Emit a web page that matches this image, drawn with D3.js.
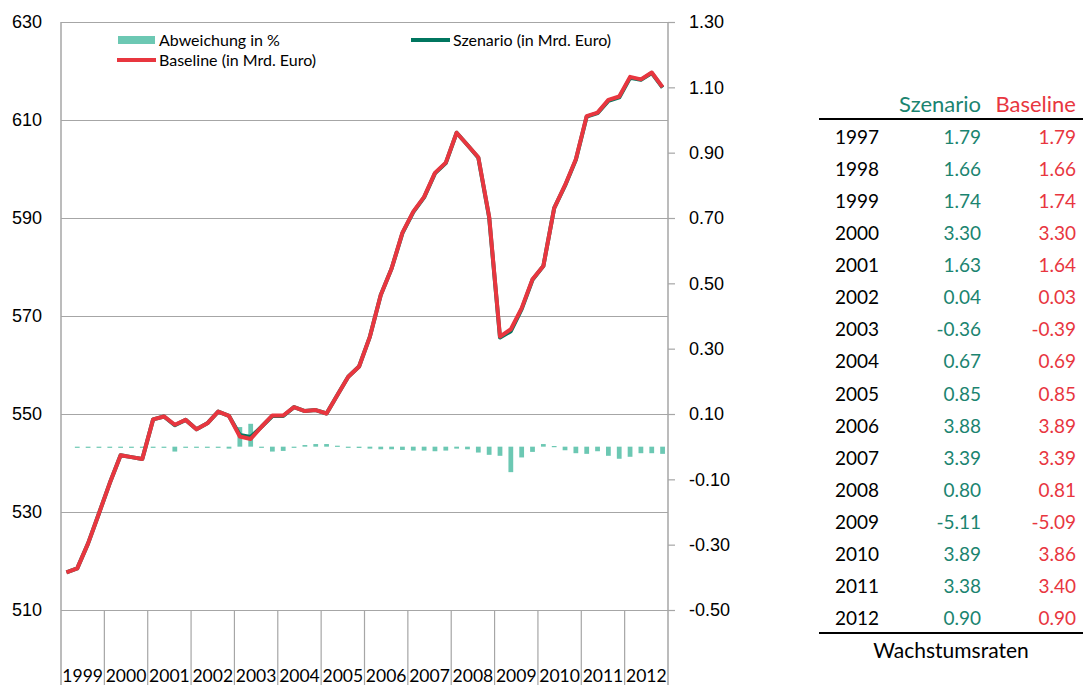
<!DOCTYPE html>
<html>
<head>
<meta charset="utf-8">
<script src="https://cdn.jsdelivr.net/npm/d3@7"></script>
<style>
	body { margin: 0; background: #fff; }
	svg { display: block; font-family: Lato, 'Open Sans', sans-serif; }
	.axis path.domain { display: none; }
</style>
</head>
<body>
<svg id="chart" width="1083" height="685"></svg>
<script>
// --- data ---
var years = [ 1999, 2000, 2001, 2002, 2003, 2004, 2005, 2006, 2007, 2008, 2009, 2010, 2011, 2012 ];

var baseline = [
	517.7, 518.5, 523.6, 529.7,
	535.9, 541.6, 541.2, 540.8,
	548.9, 549.5, 547.8, 548.8,
	546.9, 548.1, 550.5, 549.6,
	545.4, 544.9, 547.4, 549.7,
	549.7, 551.4, 550.6, 550.8,
	550.1, 553.9, 557.6, 559.7,
	565.8, 574.3, 579.7, 587.0,
	591.3, 594.3, 599.2, 601.3,
	607.4, 604.9, 602.4, 590.3,
	565.8, 567.3, 571.6, 577.5,
	580.2, 592.0, 596.7, 602.0,
	610.8, 611.5, 614.1, 614.8,
	618.8, 618.3, 619.7, 616.7
];

var szenario = [
	517.7, 518.5, 523.6, 529.7,
	535.9, 541.6, 541.2, 540.8,
	548.9, 549.5, 547.7, 548.8,
	546.9, 548.1, 550.5, 549.6,
	545.7, 545.3, 547.4, 549.6,
	549.6, 551.4, 550.6, 550.8,
	550.1, 553.9, 557.6, 559.7,
	565.8, 574.3, 579.7, 586.9,
	591.2, 594.2, 599.1, 601.2,
	607.4, 604.9, 602.3, 590.1,
	565.6, 566.9, 571.4, 577.4,
	580.2, 592.0, 596.6, 601.9,
	610.7, 611.4, 613.9, 614.6,
	618.6, 618.2, 619.6, 616.6
];

var abweichung = [
	null, -0.003, -0.003, -0.003,
	-0.003, -0.003, -0.003, -0.003,
	-0.003, -0.003, -0.015, -0.003,
	-0.003, -0.003, -0.003, -0.006,
	0.060, 0.070, -0.003, -0.015,
	-0.013, -0.003, 0.005, 0.008,
	0.008, 0.003, -0.003, -0.004,
	-0.006, -0.008, -0.008, -0.010,
	-0.012, -0.012, -0.014, -0.012,
	-0.006, -0.008, -0.018, -0.025,
	-0.028, -0.078, -0.033, -0.016,
	0.008, 0.002, -0.011, -0.020,
	-0.022, -0.014, -0.028, -0.037,
	-0.031, -0.020, -0.020, -0.022
];

var leftTicks = [ 510, 530, 550, 570, 590, 610, 630 ];
var rightTicks = [ -0.5, -0.3, -0.1, 0.1, 0.3, 0.5, 0.7, 0.9, 1.1, 1.3 ];

var tableYears = [ 1997, 1998, 1999, 2000, 2001, 2002, 2003, 2004, 2005, 2006, 2007, 2008, 2009, 2010, 2011, 2012 ];
var growthSzenario = [ 1.79, 1.66, 1.74, 3.30, 1.63, 0.04, -0.36, 0.67, 0.85, 3.88, 3.39, 0.80, -5.11, 3.89, 3.38, 0.90 ];
var growthBaseline = [ 1.79, 1.66, 1.74, 3.30, 1.64, 0.03, -0.39, 0.69, 0.85, 3.89, 3.39, 0.81, -5.09, 3.86, 3.40, 0.90 ];

var RED = '#e8363f', TEAL = '#00765f', TEAL_TXT = '#1b8470', MINT = '#6cc8b3', GRID = '#a6a6a6';

// plain hyphen for negatives, like the original
var fmt = d3.formatLocale( { decimal: '.', thousands: ',', grouping: [ 3 ], currency: [ '', '' ], minus: '-' } ).format( '.2f' );

// quarter categories built from the years
var quarters = [];
years.forEach( function( y ) {
	for ( var q = 1; q <= 4; q ++ ) quarters.push( y + 'Q' + q );
} );

var svg = d3.select( '#chart' );

var plotL = 61, plotR = 668, plotT = 22, plotB = 610;

var x = d3.scaleBand().domain( quarters ).range( [ plotL, plotR ] ).padding( 0 );
var xYear = d3.scaleBand().domain( years ).range( [ plotL, plotR ] ).padding( 0 );
var yL = d3.scaleLinear().domain( [ 510, 630 ] ).range( [ plotB, plotT ] );
var yR = d3.scaleLinear().domain( [ -0.5, 1.3 ] ).range( [ plotB, plotT ] );

// left axis + gridlines
var gL = svg.append( 'g' )
	.attr( 'class', 'axis' )
	.attr( 'transform', 'translate(' + plotL + ',0)' )
	.call( d3.axisLeft( yL ).tickValues( leftTicks ).tickSize( -( plotR - plotL ) ).tickPadding( 19 ) );
gL.selectAll( 'line' ).attr( 'stroke', GRID ).attr( 'stroke-width', 1.2 );
gL.selectAll( 'text' ).attr( 'fill', '#000' ).style( 'font-size', '18px' );

// right axis
var gR = svg.append( 'g' )
	.attr( 'class', 'axis' )
	.attr( 'transform', 'translate(' + plotR + ',0)' )
	.call( d3.axisRight( yR ).tickValues( rightTicks ).tickSize( 7 ).tickPadding( 14 ).tickFormat( fmt ) );
gR.selectAll( 'line' ).attr( 'stroke', GRID ).attr( 'stroke-width', 1.2 );
gR.selectAll( 'text' ).attr( 'fill', '#000' ).style( 'font-size', '18px' );

// axis lines, running down to the page bottom
svg.append( 'line' ).attr( 'x1', plotL ).attr( 'x2', plotL ).attr( 'y1', plotT ).attr( 'y2', 685 )
	.attr( 'stroke', GRID ).attr( 'stroke-width', 1.5 );
svg.append( 'line' ).attr( 'x1', plotR ).attr( 'x2', plotR ).attr( 'y1', plotT ).attr( 'y2', 685 )
	.attr( 'stroke', GRID ).attr( 'stroke-width', 1.5 );

// year separators and labels
svg.append( 'g' ).selectAll( 'line' ).data( years.slice( 1 ) )
	.enter().append( 'line' )
	.attr( 'x1', function( d ) { return xYear( d ); } )
	.attr( 'x2', function( d ) { return xYear( d ); } )
	.attr( 'y1', plotB ).attr( 'y2', 685 )
	.attr( 'stroke', GRID ).attr( 'stroke-width', 1.2 );

svg.append( 'g' ).selectAll( 'text' ).data( years )
	.enter().append( 'text' )
	.attr( 'x', function( d ) { return xYear( d ) + xYear.bandwidth() / 2; } )
	.attr( 'y', 682 )
	.attr( 'text-anchor', 'middle' )
	.style( 'font-size', '17.5px' )
	.text( function( d ) { return d; } );

// deviation bars (right axis)
var barW = x.bandwidth() * 0.44;
svg.append( 'g' ).selectAll( 'rect' )
	.data( abweichung.map( function( v, i ) { return { q: quarters[ i ], v: v }; } ).filter( function( d ) { return d.v !== null; } ) )
	.enter().append( 'rect' )
	.attr( 'x', function( d ) { return x( d.q ) + ( x.bandwidth() - barW ) / 2; } )
	.attr( 'y', function( d ) { return Math.min( yR( d.v ), yR( 0 ) ); } )
	.attr( 'width', barW )
	.attr( 'height', function( d ) { return Math.max( 1.2, Math.abs( yR( d.v ) - yR( 0 ) ) ); } )
	.attr( 'fill', MINT );

// lines (left axis)
var line = d3.line()
	.x( function( d, i ) { return x( quarters[ i ] ) + x.bandwidth() / 2; } )
	.y( function( d ) { return yL( d ); } );

svg.append( 'path' ).datum( szenario )
	.attr( 'd', line ).attr( 'fill', 'none' )
	.attr( 'stroke', TEAL ).attr( 'stroke-width', 4 ).attr( 'stroke-linejoin', 'round' );
svg.append( 'path' ).datum( baseline )
	.attr( 'd', line ).attr( 'fill', 'none' )
	.attr( 'stroke', RED ).attr( 'stroke-width', 4 ).attr( 'stroke-linejoin', 'round' );

// legend
var legend = svg.append( 'g' ).style( 'font-size', '16px' );
legend.append( 'rect' ).attr( 'x', 118 ).attr( 'y', 36 ).attr( 'width', 37 ).attr( 'height', 8 ).attr( 'fill', MINT );
legend.append( 'text' ).attr( 'x', 159 ).attr( 'y', 46 ).text( 'Abweichung in %' );
legend.append( 'line' ).attr( 'x1', 117 ).attr( 'x2', 156 ).attr( 'y1', 60 ).attr( 'y2', 60 )
	.attr( 'stroke', RED ).attr( 'stroke-width', 4 );
legend.append( 'text' ).attr( 'x', 159 ).attr( 'y', 66 ).text( 'Baseline (in Mrd. Euro)' );
legend.append( 'line' ).attr( 'x1', 411 ).attr( 'x2', 450 ).attr( 'y1', 40 ).attr( 'y2', 40 )
	.attr( 'stroke', TEAL ).attr( 'stroke-width', 4 );
legend.append( 'text' ).attr( 'x', 453 ).attr( 'y', 46 ).text( 'Szenario (in Mrd. Euro)' );

// growth table
var rowY = d3.scalePoint().domain( tableYears ).range( [ 137, 618 ] );
var table = svg.append( 'g' ).style( 'font-size', '19px' );

table.append( 'text' ).attr( 'x', 981 ).attr( 'y', 112 ).attr( 'text-anchor', 'end' )
	.attr( 'fill', TEAL_TXT ).style( 'font-size', '22px' ).text( 'Szenario' );
table.append( 'text' ).attr( 'x', 1076 ).attr( 'y', 112 ).attr( 'text-anchor', 'end' )
	.attr( 'fill', RED ).style( 'font-size', '22px' ).text( 'Baseline' );
table.append( 'line' ).attr( 'x1', 819 ).attr( 'x2', 1083 ).attr( 'y1', 119 ).attr( 'y2', 119 )
	.attr( 'stroke', '#000' ).attr( 'stroke-width', 2 );
table.append( 'line' ).attr( 'x1', 819 ).attr( 'x2', 1083 ).attr( 'y1', 633 ).attr( 'y2', 633 )
	.attr( 'stroke', '#000' ).attr( 'stroke-width', 2 );

var rows = table.selectAll( 'g.row' ).data( tableYears )
	.enter().append( 'g' ).attr( 'class', 'row' )
	.attr( 'transform', function( d ) { return 'translate(0,' + ( rowY( d ) + 7 ) + ')'; } );
rows.append( 'text' ).attr( 'x', 835 ).text( function( d ) { return d; } );
rows.append( 'text' ).attr( 'x', 981 ).attr( 'text-anchor', 'end' ).attr( 'fill', TEAL_TXT )
	.text( function( d, i ) { return fmt( growthSzenario[ i ] ); } );
rows.append( 'text' ).attr( 'x', 1076 ).attr( 'text-anchor', 'end' ).attr( 'fill', RED )
	.text( function( d, i ) { return fmt( growthBaseline[ i ] ); } );

table.append( 'text' ).attr( 'x', 951 ).attr( 'y', 658 ).attr( 'text-anchor', 'middle' )
	.style( 'font-size', '21px' ).text( 'Wachstumsraten' );
</script>
</body>
</html>
